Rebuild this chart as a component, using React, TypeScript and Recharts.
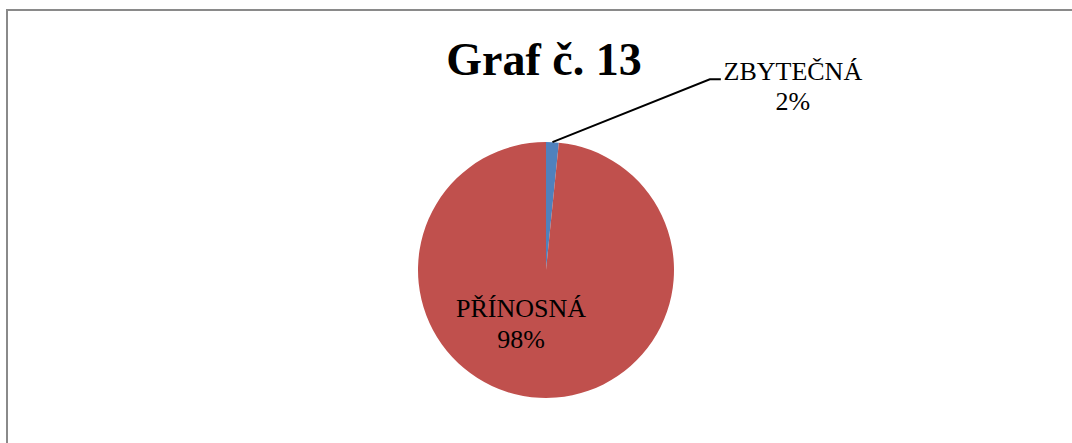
import { PieChart, Pie, Cell } from 'recharts';

// Graf č. 13 – hodnocení (podíl odpovědí)
const categories = ['ZBYTEČNÁ', 'PŘÍNOSNÁ'];
const values = [1.6, 98.4];
const colors = ['#4F81BD', '#C0504D'];

const data = categories.map((name, i) => ({ name, value: values[i] }));

const FONT = '"Liberation Serif", "Times New Roman", serif';
const RAD = Math.PI / 180;

const renderLabel = (props: any) => {
  const { cx, cy, midAngle, outerRadius, index, percent, name } = props;
  const pct = `${Math.round(percent * 100)}%`;

  if (index === 0) {
    // vynášecí čára od okraje výseče
    const sx = cx + outerRadius * Math.cos(-midAngle * RAD);
    const sy = cy + outerRadius * Math.sin(-midAngle * RAD);
    const ex = cx + outerRadius * 1.28;
    const ey = cy - outerRadius * 1.49;
    const tx = ex + 83;
    return (
      <g>
        <path d={`M${sx},${sy} L${ex},${ey} L${ex + 11},${ey}`} stroke="#000" strokeWidth={2} fill="none" />
        <text x={tx} y={ey + 1} textAnchor="middle" fontFamily={FONT} fontSize={26} fill="#000">
          {name}
        </text>
        <text x={tx} y={ey + 31} textAnchor="middle" fontFamily={FONT} fontSize={26} fill="#000">
          {pct}
        </text>
      </g>
    );
  }

  const tx = cx - outerRadius * 0.195;
  const ty = cy + outerRadius * 0.37;
  return (
    <g>
      <text x={tx} y={ty} textAnchor="middle" fontFamily={FONT} fontSize={26} fill="#000">
        {name}
      </text>
      <text x={tx} y={ty + 31} textAnchor="middle" fontFamily={FONT} fontSize={26} fill="#000">
        {pct}
      </text>
    </g>
  );
};

export default function App() {
  return (
    <div style={{ position: 'relative', width: 1072, height: 443, overflow: 'hidden', background: '#fff' }}>
      <style>{'body{margin:0}'}</style>
      <div
        style={{
          position: 'absolute',
          left: 6,
          top: 9,
          width: 1200,
          height: 600,
          borderTop: '2px solid #8a8a8a',
          borderLeft: '2px solid #8a8a8a',
        }}
      />
      <div style={{ position: 'absolute', left: 0, top: 0 }}>
        <PieChart width={1072} height={443} margin={{ top: 0, right: 0, bottom: 0, left: 0 }}>
          <Pie
            data={data}
            dataKey="value"
            nameKey="name"
            cx={546}
            cy={270}
            outerRadius={128}
            startAngle={90}
            endAngle={-270}
            stroke="none"
            label={renderLabel}
            labelLine={false}
            isAnimationActive={false}
          >
            {data.map((entry, index) => (
              <Cell key={`cell-${index}`} fill={colors[index]} />
            ))}
          </Pie>
        </PieChart>
      </div>
      <svg width={1072} height={443} style={{ position: 'absolute', left: 0, top: 0, pointerEvents: 'none' }}>
        <text x={544} y={75} textAnchor="middle" fontFamily={FONT} fontSize={46} fontWeight="bold" fill="#000">
          Graf č. 13
        </text>
      </svg>
    </div>
  );
}
